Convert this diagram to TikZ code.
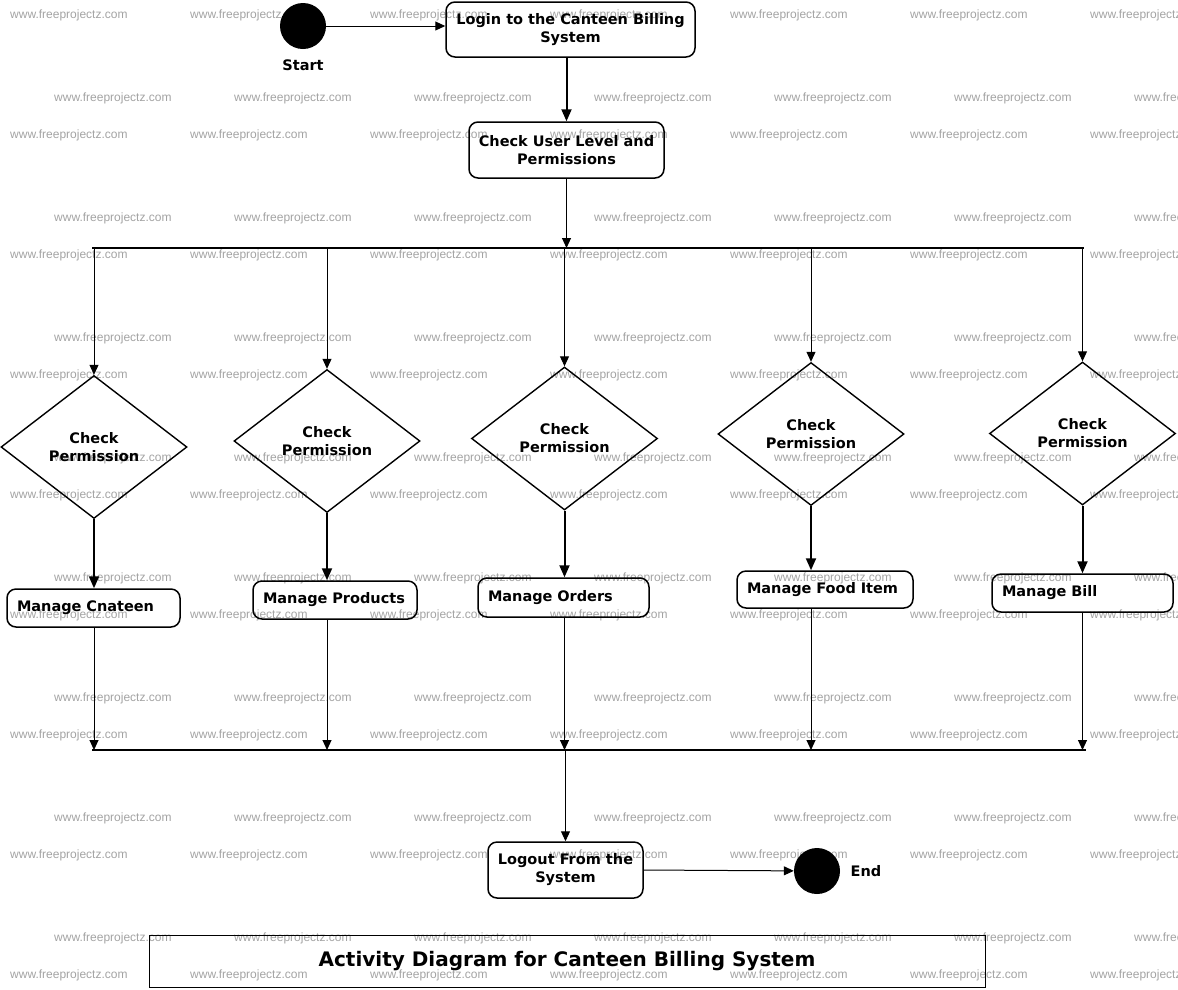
\documentclass[tikz,border=0pt]{standalone}
\usepackage{fontspec}
\setmainfont{DejaVu Sans}
\newfontfamily\wmfont{Liberation Sans}
\usepackage{tikz}
\usetikzlibrary{shapes,arrows.meta,positioning}

\begin{document}
\begin{tikzpicture}[
    x=1pt, y=-1pt,
    font=\fontsize{14.5}{18}\selectfont\bfseries,
    act/.style={rectangle, rounded corners=9pt, draw, line width=1.5pt, align=center, inner sep=0pt},
    task/.style={act, align=left, inner xsep=10pt, inner ysep=0pt},
    decision/.style={diamond, draw, line width=1.4pt, minimum width=186pt, minimum height=143pt, inner sep=0pt, align=center},
    dot/.style={circle, fill=black, minimum size=46pt, inner sep=0pt},
    arrow/.style={-{Triangle[length=10pt,width=9pt]}, line width=1pt},
    bold arrow/.style={-{Triangle[length=12pt,width=10pt]}, line width=2pt},
    bar/.style={line width=2pt},
    wm/.style={anchor=west, inner sep=0pt, text=black!36, font=\wmfont\mdseries\fontsize{12}{12}\selectfont}
]
\useasboundingbox (0,0) rectangle (1178,989);

% watermark
\foreach \y in {15,135,...,975}
    \foreach \x in {10,190,...,1090}
        \node[wm] at (\x,\y) {www.freeprojectz.com};
\foreach \y in {98,218,...,938}
    \foreach \x in {54,234,...,1134}
        \node[wm] at (\x,\y) {www.freeprojectz.com};

\node[dot, label={[label distance=7pt]below:Start}] (start) at (303,26) {};
\node[act, minimum width=249pt, minimum height=55pt] (login) at (570.5,29.5) {Login to the Canteen Billing\\System};
\node[act, minimum width=195pt, minimum height=56pt] (check) at (566.5,150) {Check User Level and\\Permissions};

\node[decision] (perm1) at (94,447) {Check\\Permission};
\node[decision] (perm2) at (327,441) {Check\\Permission};
\node[decision] (perm3) at (564.5,438.5) {Check\\Permission};
\node[decision] (perm4) at (811,434) {Check\\Permission};
\node[decision] (perm5) at (1082.5,433.5) {Check\\Permission};

\node[task, text width=153pt, minimum height=38pt] (canteen) at (93.5,608) {Manage Cnateen};
\node[task, text width=144pt, minimum height=38pt] (products) at (335,600) {Manage Products};
\node[task, text width=151pt, minimum height=39pt] (orders) at (563.5,597.5) {Manage Orders};
\node[task, text width=156pt, minimum height=37pt] (food) at (825,589.5) {Manage Food Item};
\node[task, text width=161pt, minimum height=38pt] (bill) at (1082.5,593) {Manage Bill};

\node[act, minimum width=155pt, minimum height=56pt] (logout) at (565.5,870) {Logout From the\\System};
\node[dot, label={[label distance=7pt]right:End}] (end) at (817,871) {};

\node[draw, line width=1pt, minimum width=836pt, minimum height=52pt, font=\fontsize{20}{24}\selectfont\bfseries] (title) at (567,961) {Activity Diagram for Canteen Billing System};

% fork and join bars
\coordinate (forkL) at (92,248);
\coordinate (forkR) at (1084,248);
\coordinate (joinL) at (92,750);
\coordinate (joinR) at (1086,750);

\draw[arrow] (start) -- (start -| login.west);
\draw[bold arrow] (login.south -| check) -- (check.north);
\draw[arrow] (check.south) -- (check |- forkL);
\draw[bar] (forkL) -- (forkR);

\draw[arrow] (perm1 |- forkL) -- (perm1.north);
\draw[arrow] (perm2 |- forkL) -- (perm2.north);
\draw[arrow] (perm3 |- forkL) -- (perm3.north);
\draw[arrow] (perm4 |- forkL) -- (perm4.north);
\draw[arrow] (perm5 |- forkL) -- (perm5.north);

\draw[bold arrow] (perm1.south) -- (perm1 |- canteen.north);
\draw[bold arrow] (perm2.south) -- (perm2 |- products.north);
\draw[bold arrow] (perm3.south) -- (perm3 |- orders.north);
\draw[bold arrow] (perm4.south) -- (perm4 |- food.north);
\draw[bold arrow] (perm5.south) -- (perm5 |- bill.north);

\draw[arrow] (perm1 |- canteen.south) -- (perm1 |- joinL);
\draw[arrow] (perm2 |- products.south) -- (perm2 |- joinL);
\draw[arrow] (perm3 |- orders.south) -- (perm3 |- joinL);
\draw[arrow] (perm4 |- food.south) -- (perm4 |- joinL);
\draw[arrow] (perm5 |- bill.south) -- (perm5 |- joinL);
\draw[bar] (joinL) -- (joinR);

\draw[arrow] (logout.north |- joinL) -- (logout.north);
\draw[arrow] (logout.east) -- (end);
\end{tikzpicture}
\end{document}
